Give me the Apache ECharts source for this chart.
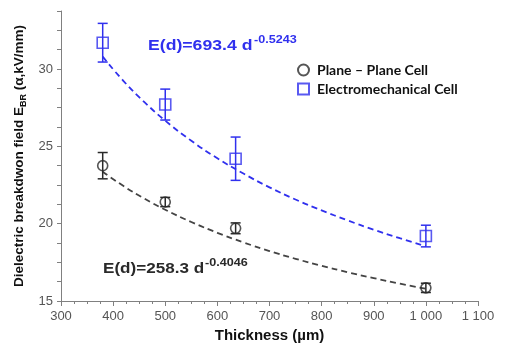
<!DOCTYPE html>
<html>
<head>
<meta charset="utf-8">
<style>
  html, body { margin: 0; padding: 0; background: #fff; }
  #main { width: 508px; height: 352px; }
</style>
<script src="https://cdn.jsdelivr.net/npm/echarts@6/dist/echarts.min.js"></script>
</head>
<body>
<div id="main"></div>
<script>
  // measured points
  const thickness = [380, 500, 635, 1000];
  const planeE = [23.75, 21.4, 19.7, 15.85];
  const planeErr = [0.85, 0.3, 0.35, 0.3];
  const electroE = [31.7, 27.7, 24.2, 19.2];
  const electroErr = [1.25, 1.0, 1.4, 0.7];

  // fitted curves
  const fitD = [380, 420, 460, 500, 550, 600, 650, 700, 750, 800, 850, 900, 950, 1000];
  const planeFit = [23.36, 22.43, 21.62, 20.90, 20.11, 19.41, 18.79, 18.23, 17.73, 17.28, 16.86, 16.48, 16.12, 15.79];
  const electroFit = [30.80, 29.22, 27.86, 26.66, 25.36, 24.23, 23.24, 22.35, 21.56, 20.86, 20.21, 19.61, 19.06, 18.54];

  const yLabels = [15, 20, 25, 30];

  const BLUE = '#3030ee';
  const BLACK = '#2a2a2a';
  const GREY = '#808080';

  function errorBars (name, vals, errs, color) {
    return {
      name: name,
      type: 'custom',
      z: 3,
      encode: { x: 0, y: 1 },
      data: thickness.map((d, i) => [d, vals[i], errs[i]]),
      renderItem: function (params, api) {
        const x = api.value(0), y = api.value(1), e = api.value(2)
        const top = api.coord([x, y + e])
        const bot = api.coord([x, y - e])
        const hw = 5
        const st = { stroke: color, lineWidth: 1.5 }
        return {
          type: 'group',
          children: [
            { type: 'line', shape: { x1: top[0], y1: top[1], x2: bot[0], y2: bot[1] }, style: st },
            { type: 'line', shape: { x1: top[0] - hw, y1: top[1], x2: top[0] + hw, y2: top[1] }, style: st },
            { type: 'line', shape: { x1: bot[0] - hw, y1: bot[1], x2: bot[0] + hw, y2: bot[1] }, style: st }
          ]
        }
      }
    }
  }

  const myChart = echarts.init(document.getElementById('main'))
  const eqFont = 'Liberation Sans, Arial, sans-serif'

  myChart.setOption({
    animation: false,
    grid: { left: 61, right: 30, top: 11, bottom: 51 },
    legend: {
      data: ['Plane \u2013 Plane Cell', 'Electromechanical Cell'],
      orient: 'vertical',
      left: 297,
      top: 63,
      padding: 0,
      itemWidth: 11,
      itemHeight: 11,
      itemGap: 5,
      textStyle: { fontFamily: 'Lato', fontWeight: 'bold', fontSize: 14, color: '#111', padding: [0, 0, 0, 3] }
    },
    xAxis: {
      type: 'value',
      min: 300,
      max: 1100,
      interval: 100,
      name: 'Thickness (\u00b5m)',
      nameLocation: 'middle',
      nameGap: 26,
      nameTextStyle: { fontFamily: 'Liberation Sans', fontWeight: 'bold', fontSize: 15, color: '#111' },
      axisLine: { lineStyle: { color: GREY } },
      axisTick: { length: 5, lineStyle: { color: GREY } },
      minorTick: { show: true, splitNumber: 4, length: 3, lineStyle: { color: GREY } },
      splitLine: { show: false },
      axisLabel: {
        margin: 9,
        fontFamily: 'Liberation Sans',
        fontSize: 13,
        color: '#555',
        formatter: v => String(v).replace(/\B(?=(\d{3})+$)/, ' ')
      }
    },
    yAxis: {
      type: 'value',
      min: 15,
      max: 33.75,
      interval: 1.25,
      name: 'Dielectric breakdwon field E{sub|BR} (\u03b1,kV/mm)',
      nameLocation: 'middle',
      nameRotate: 90,
      nameGap: 31,
      nameTextStyle: {
        fontFamily: 'Liberation Sans',
        fontWeight: 'bold',
        fontSize: 13.5,
        color: '#111',
        lineHeight: 16,
        rich: {
          sub: { fontFamily: 'Liberation Sans', fontWeight: 'bold', fontSize: 9, color: '#111', verticalAlign: 'bottom', lineHeight: 16 }
        }
      },
      axisLine: { show: true, lineStyle: { color: GREY } },
      axisTick: { show: true, length: 4, lineStyle: { color: GREY } },
      splitLine: { show: false },
      axisLabel: {
        margin: 8,
        fontFamily: 'Liberation Sans',
        fontSize: 13,
        color: '#555',
        formatter: v => (yLabels.indexOf(v) >= 0 ? String(v) : '')
      }
    },
    graphic: [
      { type: 'text', x: 148, y: 46, scaleX: 1.26, style: { text: 'E(d)=693.4 d', fontFamily: eqFont, fontWeight: 'bold', fontSize: 14, fill: BLUE, verticalAlign: 'middle' } },
      { type: 'text', x: 254, y: 40, scaleX: 1.26, style: { text: '-0.5243', fontFamily: eqFont, fontWeight: 'bold', fontSize: 10, fill: BLUE, verticalAlign: 'middle' } },
      { type: 'text', x: 103, y: 269, scaleX: 1.22, style: { text: 'E(d)=258.3 d', fontFamily: eqFont, fontWeight: 'bold', fontSize: 14, fill: BLACK, verticalAlign: 'middle' } },
      { type: 'text', x: 205, y: 263, scaleX: 1.26, style: { text: '-0.4046', fontFamily: eqFont, fontWeight: 'bold', fontSize: 10, fill: BLACK, verticalAlign: 'middle' } }
    ],
    series: [
      {
        name: 'electro fit',
        type: 'line',
        smooth: true,
        symbol: 'none',
        z: 1,
        data: fitD.map((d, i) => [d, electroFit[i]]),
        lineStyle: { color: BLUE, width: 1.8, type: [6, 4] }
      },
      {
        name: 'plane fit',
        type: 'line',
        smooth: true,
        symbol: 'none',
        z: 1,
        data: fitD.map((d, i) => [d, planeFit[i]]),
        lineStyle: { color: '#444', width: 1.8, type: [6, 4] }
      },
      errorBars('electro err', electroE, electroErr, BLUE),
      errorBars('plane err', planeE, planeErr, BLACK),
      {
        name: 'Plane \u2013 Plane Cell',
        type: 'scatter',
        symbol: 'circle',
        symbolSize: 10,
        z: 4,
        data: thickness.map((d, i) => [d, planeE[i]]),
        itemStyle: { color: 'rgba(255,255,255,0)', borderColor: BLACK, borderWidth: 1.6 }
      },
      {
        name: 'Electromechanical Cell',
        type: 'scatter',
        symbol: 'rect',
        symbolSize: 11,
        z: 4,
        data: thickness.map((d, i) => [d, electroE[i]]),
        itemStyle: { color: 'rgba(255,255,255,0)', borderColor: BLUE, borderWidth: 1.6 }
      }
    ]
  })
</script>
</body>
</html>
